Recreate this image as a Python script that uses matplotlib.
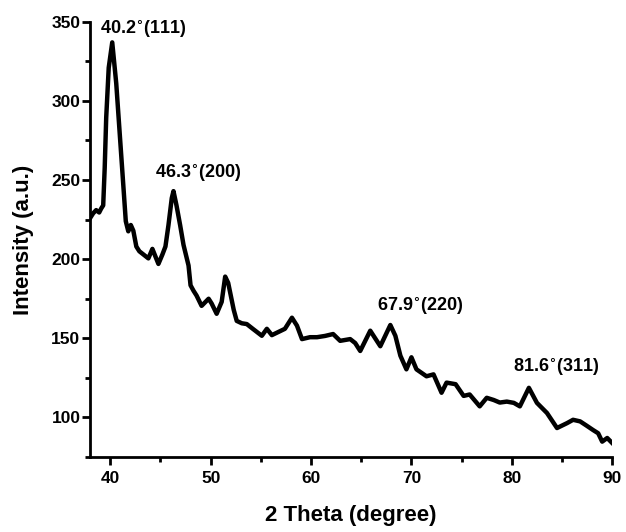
import matplotlib
matplotlib.use('Agg')
import matplotlib.pyplot as plt
from matplotlib.ticker import MultipleLocator

# XRD pattern
two_theta = [38.0, 38.3, 38.6, 38.9, 39.1, 39.3, 39.45, 39.6, 39.85, 40.2, 40.6,
             40.95, 41.3, 41.55, 41.8, 42.05, 42.3, 42.6, 42.9, 43.3, 43.8, 44.2,
             44.8, 45.2, 45.5, 45.8, 46.13, 46.3, 46.6, 46.96, 47.3, 47.8,
             48.0, 48.3, 48.6, 49.1, 49.8, 50.1, 50.6, 51.1, 51.45,
             51.75, 52.3, 52.6, 53.1, 53.6, 54.2, 55.1, 55.6, 56.1, 56.75, 57.4,
             58.1, 58.6, 59.1, 59.9, 60.6, 61.4, 62.2, 62.9, 63.9, 64.4, 64.9,
             65.9, 66.9, 67.9, 68.4, 68.9, 69.5, 70.0, 70.5, 71.5, 72.2, 73.0,
             73.5, 74.4, 75.2, 75.8, 76.8, 77.5, 78.2, 78.8, 79.5, 80.2, 80.8,
             81.7, 82.5, 83.5, 84.5, 85.5, 86.1, 86.8, 87.4, 88.1, 88.6, 89.0,
             89.5, 90.0]
intensity = [226, 229, 231, 229.5, 232, 234, 257.7, 289.5, 321, 337, 311,
             279, 247, 224, 217.6, 221.6, 218, 208, 205, 203, 200.5, 206.5,
             197, 203, 208, 221.5, 238.6, 243, 234, 221.6, 209, 196,
             183.5, 180, 177, 170.5, 175, 172, 165.5, 173, 189,
             185, 168, 161, 159.5, 159, 156, 151.6, 156, 152, 154, 156,
             163, 158, 149.5, 150.7, 150.7, 151.5, 152.7, 148.4, 149.5, 147, 142,
             154.8, 145, 158.4, 151.6, 139, 130.4, 138, 130.4, 126, 127.2, 115.6,
             122, 121, 113.6, 114.5, 107, 112.4, 111, 109.4, 110, 109.2, 107,
             118.7, 109.2, 102.8, 93.3, 96.4, 98.5, 97.5, 95, 92, 90, 84.7,
             87, 83.8]

peak_labels = [r'40.2$^{\circ}$(111)', r'46.3$^{\circ}$(200)',
               r'67.9$^{\circ}$(220)', r'81.6$^{\circ}$(311)']
label_x = [39.0, 44.45, 66.55, 80.15]
label_y = [345, 254.5, 170, 131.5]

plt.rcParams['font.family'] = ['Liberation Sans', 'DejaVu Sans']
plt.rcParams['font.weight'] = 'bold'

fig = plt.figure(figsize=(6.26, 5.32), dpi=100)
ax = fig.add_axes([0.144, 0.141, 0.834, 0.818])

ax.plot(two_theta, intensity, color='black', lw=3.2, solid_joinstyle='round')

for lab, lx, ly in zip(peak_labels, label_x, label_y):
    ax.text(lx, ly, lab, ha='left', va='center', fontsize=13, fontweight='bold')

ax.set_xlim(38, 90)
ax.set_ylim(75, 350)
ax.xaxis.set_major_locator(MultipleLocator(10))
ax.xaxis.set_minor_locator(MultipleLocator(5))
ax.yaxis.set_major_locator(MultipleLocator(50))
ax.yaxis.set_minor_locator(MultipleLocator(25))

ax.spines['top'].set_visible(False)
ax.spines['right'].set_visible(False)
for s in ['left', 'bottom']:
    ax.spines[s].set_linewidth(2)

ax.tick_params(which='major', direction='out', length=6, width=2, labelsize=12.5)
ax.tick_params(axis='x', which='major', pad=4)
ax.tick_params(axis='y', which='major', pad=1)
ax.tick_params(which='minor', direction='out', length=3.5, width=2)
for t in ax.get_xticklabels() + ax.get_yticklabels():
    t.set_fontweight('bold')

ax.set_xlabel('2 Theta (degree)', fontsize=16, fontweight='bold')
ax.set_ylabel('Intensity (a.u.)', fontsize=16, fontweight='bold')
ax.xaxis.set_label_coords(0.5, -0.11)
ax.yaxis.set_label_coords(-0.108, 0.5)

fig.savefig('out.png', dpi=100)
